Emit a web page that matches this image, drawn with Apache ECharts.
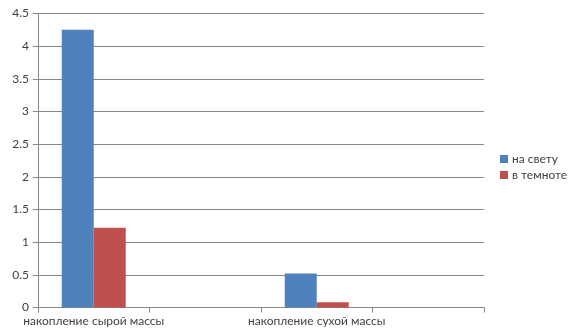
<!DOCTYPE html>
<html>
<head>
<meta charset="utf-8">
<script src="https://cdn.jsdelivr.net/npm/echarts@6/dist/echarts.min.js"></script>
<style>html,body{margin:0;padding:0;background:#fff}#c{width:578px;height:336px}</style>
</head>
<body>
<div id="c"></div>
<script>
var categories = ['накопление сырой массы', '', 'накопление сухой массы', ''];
var seriesNames = ['на свету', 'в темноте'];
var lightValues = [4.25, '-', 0.52, '-'];
var darkValues = [1.22, '-', 0.08, '-'];
var yTicks = {min: 0, max: 4.5, interval: 0.5};

var FONT = 'Lato, "Open Sans", sans-serif';
var chart = echarts.init(document.getElementById('c'), null, {renderer: 'canvas'});
chart.setOption({
  animation: false,
  backgroundColor: '#fff',
  textStyle: {fontFamily: FONT},
  grid: {left: 38, right: 94, top: 13.5, bottom: 28.5, containLabel: false},
  legend: {
    orient: 'vertical', left: 500, top: 153, padding: 0,
    itemWidth: 8, itemHeight: 8, itemGap: 4, icon: 'rect',
    textStyle: {fontSize: 12, color: '#404040', fontFamily: FONT, padding: [0, 0, 0, -1]},
    data: seriesNames
  },
  xAxis: {
    type: 'category', data: categories, boundaryGap: true,
    axisLine: {lineStyle: {color: '#868686', width: 1}},
    axisTick: {show: true, interval: 0, length: 5, lineStyle: {color: '#868686'}},
    axisLabel: {interval: 0, color: '#404040', fontSize: 12, margin: 8, fontFamily: FONT}
  },
  yAxis: {
    type: 'value', min: yTicks.min, max: yTicks.max, interval: yTicks.interval,
    axisLine: {show: true, lineStyle: {color: '#868686', width: 1}},
    axisTick: {show: true, length: 5, lineStyle: {color: '#868686'}},
    axisLabel: {color: '#404040', fontSize: 12, margin: 9, fontFamily: FONT},
    splitLine: {show: true, lineStyle: {color: '#868686', width: 1}}
  },
  series: [
    {name: seriesNames[0], type: 'bar', data: lightValues, barWidth: 32, barGap: '0%', itemStyle: {color: '#4f81bd'}},
    {name: seriesNames[1], type: 'bar', data: darkValues, barWidth: 32, barGap: '0%', itemStyle: {color: '#c0504d'}}
  ]
});
</script>
</body>
</html>
